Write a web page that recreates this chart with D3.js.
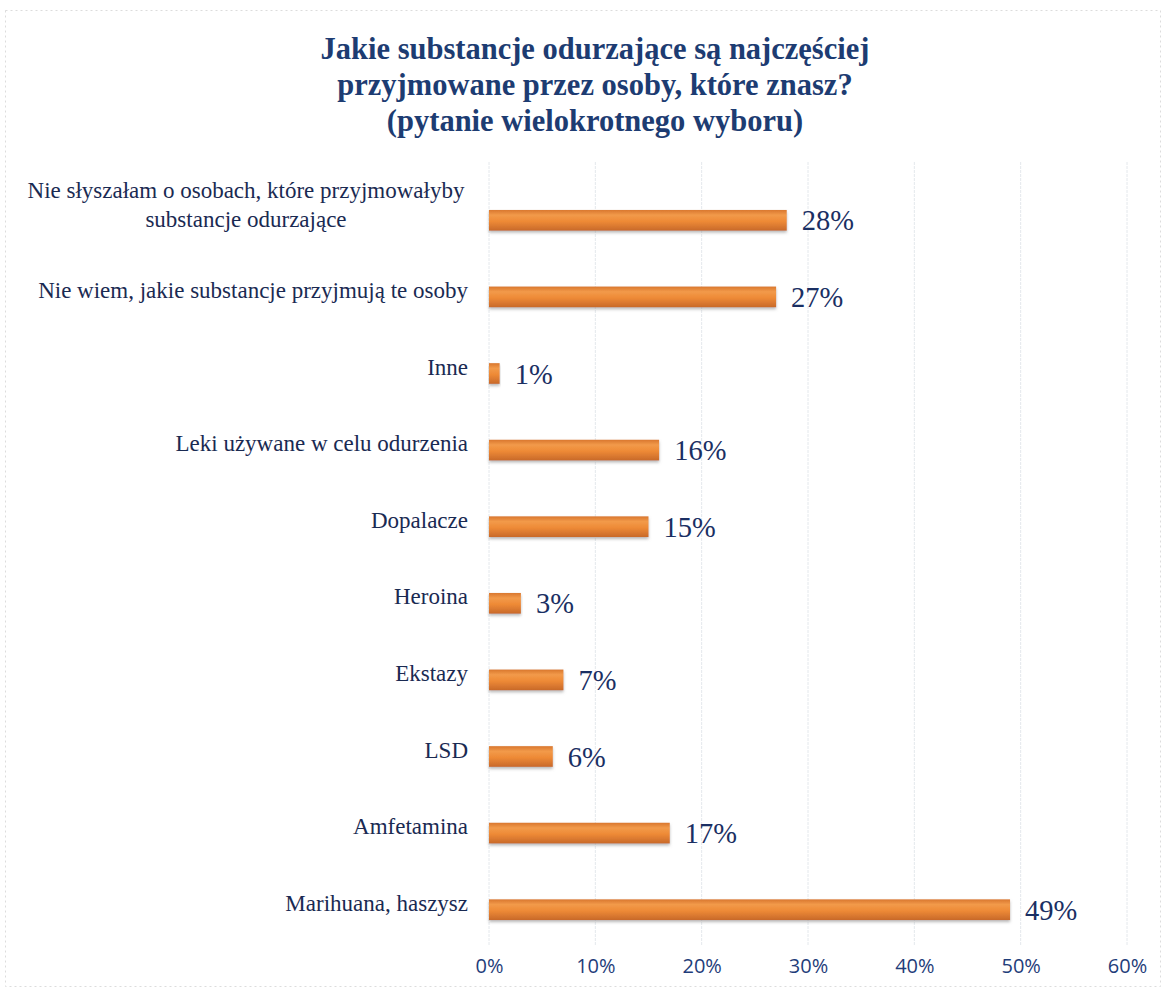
<!DOCTYPE html>
<html>
<head>
<meta charset="utf-8">
<script src="https://cdn.jsdelivr.net/npm/d3@7"></script>
<style>
  html, body { margin: 0; padding: 0; background: #fff; }
  svg { display: block; }
</style>
</head>
<body>
<svg id="chart" width="1163" height="988"></svg>
<script>
// Survey answers, top to bottom
const categories = [
  "Nie słyszałam o osobach, które przyjmowałyby|substancje odurzające",
  "Nie wiem, jakie substancje przyjmują te osoby",
  "Inne",
  "Leki używane w celu odurzenia",
  "Dopalacze",
  "Heroina",
  "Ekstazy",
  "LSD",
  "Amfetamina",
  "Marihuana, haszysz"
];
const values = [28, 27, 1, 16, 15, 3, 7, 6, 17, 49];
const tickValues = [0, 10, 20, 30, 40, 50, 60];
const titleLines = [
  "Jakie substancje odurzające są najczęściej",
  "przyjmowane przez osoby, które znasz?",
  "(pytanie wielokrotnego wyboru)"
];

const svg = d3.select("#chart");
const W = 1163, H = 988;

const defs = svg.append("defs");
const grad = defs.append("linearGradient")
  .attr("id", "barFill").attr("x1", 0).attr("y1", 0).attr("x2", 0).attr("y2", 1);
grad.append("stop").attr("offset", "0%").attr("stop-color", "#d9772e");
grad.append("stop").attr("offset", "25%").attr("stop-color", "#f29a4a");
grad.append("stop").attr("offset", "55%").attr("stop-color", "#ee8a36");
grad.append("stop").attr("offset", "100%").attr("stop-color", "#c8692a");
const shadow = defs.append("filter").attr("id", "barShadow")
  .attr("x", "-5%").attr("y", "-30%").attr("width", "110%").attr("height", "180%");
shadow.append("feDropShadow").attr("dx", 0).attr("dy", 2).attr("stdDeviation", 1.5)
  .attr("flood-color", "#8a8a8a").attr("flood-opacity", 0.6);

// faint frame
svg.append("rect")
  .attr("x", 5.5).attr("y", 10.5).attr("width", W - 8).attr("height", H - 12)
  .attr("fill", "none").attr("stroke", "#dcdcdc").attr("stroke-width", 1)
  .attr("stroke-dasharray", "2,3");

const x = d3.scaleLinear().domain([0, 60]).range([489, 1127]);
const y = d3.scaleBand().domain(categories).range([182, 948]).paddingInner(0.73).paddingOuter(0.365);

// gridlines
svg.append("g").selectAll("line").data(tickValues).join("line")
  .attr("x1", d => x(d)).attr("x2", d => x(d))
  .attr("y1", 162).attr("y2", 946)
  .attr("stroke", "#e4e8ec").attr("stroke-width", 1)
  .attr("stroke-dasharray", "3,1");

// title
svg.append("g").selectAll("text").data(titleLines).join("text")
  .attr("x", 595).attr("y", (d, i) => 59 + i * 36)
  .attr("text-anchor", "middle")
  .attr("font-family", "'Liberation Serif', 'Times New Roman', serif")
  .attr("font-weight", "bold").attr("font-size", 30.5)
  .attr("fill", "#1d3c72")
  .text(d => d);

// bars
svg.append("g").selectAll("rect").data(values).join("rect")
  .attr("x", x(0))
  .attr("y", (d, i) => y(categories[i]))
  .attr("width", d => x(d) - x(0))
  .attr("height", y.bandwidth())
  .attr("fill", "url(#barFill)")
  .attr("filter", "url(#barShadow)");

// value labels
svg.append("g").selectAll("text").data(values).join("text")
  .attr("x", d => x(d) + 15)
  .attr("y", (d, i) => y(categories[i]) + y.bandwidth() / 2 + 10)
  .attr("font-family", "'Liberation Serif', 'Times New Roman', serif")
  .attr("font-size", 28.5)
  .attr("fill", "#1a2f63")
  .text(d => d + "%");

// category labels
const catG = svg.append("g");
categories.forEach((c, i) => {
  const lines = c.split("|");
  const cy = y(c) + y.bandwidth() / 2;
  if (lines.length === 1) {
    catG.append("text")
      .attr("x", 468).attr("y", cy + 1)
      .attr("text-anchor", "end")
      .attr("font-family", "'Liberation Serif', 'Times New Roman', serif")
      .attr("font-size", 23).attr("fill", "#1a2a52")
      .text(lines[0]);
  } else {
    const t = catG.append("text")
      .attr("text-anchor", "middle")
      .attr("font-family", "'Liberation Serif', 'Times New Roman', serif")
      .attr("font-size", 23).attr("fill", "#1a2a52");
    lines.forEach((l, j) => {
      t.append("tspan").attr("x", 246).attr("y", cy - 22 + j * 29).text(l);
    });
  }
});

// x axis tick labels
const axis = d3.axisBottom(x).tickValues(tickValues).tickSize(0).tickFormat(d => d + "%");
const ax = svg.append("g").attr("transform", "translate(0,956)").call(axis);
ax.select(".domain").remove();
ax.selectAll("text")
  .attr("font-family", "'Open Sans', 'Noto Sans', sans-serif")
  .attr("font-size", 20).attr("fill", "#1f3d7a");
</script>
</body>
</html>
